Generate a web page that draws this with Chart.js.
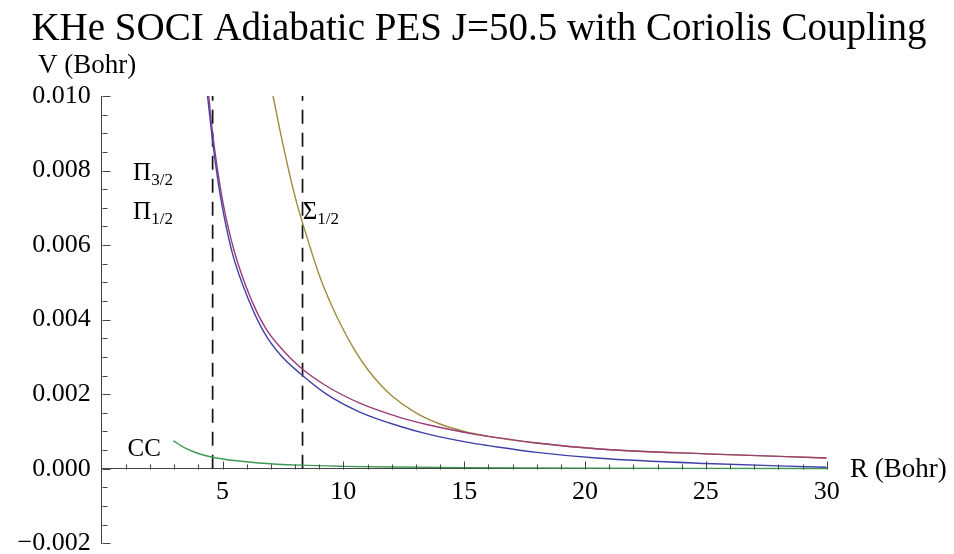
<!DOCTYPE html>
<html>
<head>
<meta charset="utf-8">
<script src="https://cdn.jsdelivr.net/npm/chart.js@4.4.1/dist/chart.umd.min.js"></script>
<style>
  html, body { margin: 0; padding: 0; background: #fff; }
  #wrap { width: 954px; height: 554px; }
</style>
</head>
<body>
<div id="wrap"><canvas id="pes" width="954" height="554"></canvas></div>
<script>
// 曲线数据 (R in Bohr, V)
const rPi32 = [4.43, 4.59, 4.8, 5.03, 5.48, 6.2, 6.8, 7.5, 8.2, 9.3, 10.68, 12.33, 13.5, 15.4, 16, 18, 20.6, 25, 30];
const vPi32 = [0.0100, 0.0090, 0.0080, 0.0071, 0.00585, 0.00452, 0.00375, 0.00318, 0.00273, 0.00222, 0.00176, 0.00138, 0.00118, 0.00093, 0.00087, 0.00069, 0.00053, 0.0004, 0.00029];

const rPi12 = [4.38, 4.55, 4.75, 4.97, 5.4, 6.1, 6.7, 7.4, 8.2, 9.3, 10.68, 12.33, 13.5, 15.4, 16, 18, 20.6, 25, 30];
const vPi12 = [0.0100, 0.0090, 0.0080, 0.0071, 0.0058, 0.0045, 0.00368, 0.00305, 0.00256, 0.00200, 0.00152, 0.00114, 0.00093, 0.00068, 0.00062, 0.00044, 0.00028, 0.00014, 0.00004];

const rSig12 = [7.09, 7.5, 8.0, 8.5, 9.0, 9.5, 10, 10.5, 11, 11.5, 12, 13, 14, 15, 16, 18, 20.6, 25, 30];
const vSig12 = [0.0100, 0.0087, 0.0073, 0.0062, 0.0052, 0.0044, 0.00373, 0.00315, 0.00267, 0.00228, 0.00196, 0.0015, 0.0012, 0.001, 0.00087, 0.00069, 0.00053, 0.0004, 0.00029];

const rCC = [2.96, 3.5, 4.0, 4.59, 5.5, 6.5, 8.2, 10, 12, 15, 20, 25, 30];
const vCC = [0.00075, 0.00054, 0.00041, 0.00031, 0.00022, 0.000155, 0.000096, 0.000065, 0.000046, 0.00003, 0.000016, 0.00001, 0.000007];

// 竖直虚线位置
const dashR = [4.59, 8.31];
const dashV = [0, 0.010];

// 坐标轴
const xMin = 0, xMax = 30, xMinorStep = 1, xMajorStep = 5;
const yMin = -0.002, yMax = 0.010, yMinorStep = 0.0005, yMajorStep = 0.002;
const xTickLabels = ['5', '10', '15', '20', '25', '30'];
const yTickLabels = ['\u22120.002', '0.000', '0.002', '0.004', '0.006', '0.008', '0.010'];

// 文字标注
const chartTitle = 'KHe SOCI Adiabatic PES J=50.5 with Coriolis Coupling';
const yAxisTitle = 'V (Bohr)';
const xAxisTitle = 'R (Bohr)';
const stateMain = ['\u03A0', '\u03A0', '\u03A3', 'CC'];
const stateSub = ['3/2', '1/2', '1/2', ''];
const stateR = [1.3, 1.3, 8.32, 1.07];
const stateV = [0.00775, 0.0067, 0.0067, 0.000335];

const SERIF = '"Liberation Serif", "DejaVu Serif", serif';

function pts(rs, vs) {
    return rs.map((r, i) => ({ x: r, y: vs[i] }));
}

function isMajor(v, step) {
    const q = v / step;
    return Math.abs(q - Math.round(q)) < 1e-6;
}

const curveStyle = {
    borderWidth: 1.4,
    pointRadius: 0,
    fill: false,
    cubicInterpolationMode: 'monotone'
};

const dashStyle = {
    borderColor: '#111',
    borderWidth: 1.7,
    borderDash: [14, 9],
    pointRadius: 0,
    fill: false
};

// 刻度与文字
const overlay = {
    id: 'overlay',
    afterDatasetsDraw(chart) {
        const ctx = chart.ctx;
        const xs = chart.scales.x, ys = chart.scales.y;
        const x0 = Math.round(xs.getPixelForValue(0)) + 0.5;
        const y0 = Math.round(ys.getPixelForValue(0)) + 0.5;
        ctx.save();
        ctx.strokeStyle = '#444';
        ctx.lineWidth = 1;
        ctx.beginPath();
        xs.ticks.forEach(t => {
            if (t.value === 0) return;
            const px = Math.round(xs.getPixelForValue(t.value)) + 0.5;
            const len = isMajor(t.value, xMajorStep) ? 8 : 5;
            ctx.moveTo(px, y0);
            ctx.lineTo(px, y0 - len);
        });
        ys.ticks.forEach(t => {
            const py = Math.round(ys.getPixelForValue(t.value)) + 0.5;
            const len = isMajor(t.value, yMajorStep) ? 8 : 5;
            ctx.moveTo(x0, py);
            ctx.lineTo(x0 + len, py);
        });
        ctx.stroke();
        ctx.restore();
    },
    afterDraw(chart) {
        const ctx = chart.ctx;
        const xs = chart.scales.x, ys = chart.scales.y;
        ctx.save();
        ctx.fillStyle = '#000';
        ctx.textBaseline = 'alphabetic';

        ctx.font = '39px ' + SERIF;
        ctx.textAlign = 'center';
        ctx.fillText(chartTitle, 479, 40);

        ctx.font = '27px ' + SERIF;
        ctx.textAlign = 'left';
        ctx.fillText(yAxisTitle, 38, 73);
        ctx.fillText(xAxisTitle, 850, ys.getPixelForValue(0) + 8);

        stateMain.forEach((m, i) => {
            const px = xs.getPixelForValue(stateR[i]);
            const py = ys.getPixelForValue(stateV[i]);
            ctx.font = '25px ' + SERIF;
            ctx.fillText(m, px, py);
            if (stateSub[i]) {
                const w = ctx.measureText(m).width;
                ctx.font = '17px ' + SERIF;
                ctx.fillText(stateSub[i], px + w, py + 5);
            }
        });
        ctx.restore();
    }
};

new Chart(document.getElementById('pes').getContext('2d'), {
    type: 'line',
    data: {
        datasets: [
            Object.assign({ label: 'Pi1/2', data: pts(rPi12, vPi12), borderColor: '#4040a8' }, curveStyle),
            Object.assign({ label: 'Pi3/2', data: pts(rPi32, vPi32), borderColor: '#9a3d78' }, curveStyle),
            Object.assign({ label: 'Sigma1/2', data: pts(rSig12, vSig12), borderColor: '#9e8c3c' }, curveStyle),
            Object.assign({ label: 'CC', data: pts(rCC, vCC), borderColor: '#3d9955' }, curveStyle),
            Object.assign({ label: 'dash1', data: pts([dashR[0], dashR[0]], dashV) }, dashStyle),
            Object.assign({ label: 'dash2', data: pts([dashR[1], dashR[1]], dashV) }, dashStyle)
        ]
    },
    options: {
        responsive: false,
        animation: false,
        devicePixelRatio: 1,
        layout: { padding: { left: 0, right: 127.3, top: 96, bottom: 10.7 } },
        plugins: {
            legend: { display: false },
            tooltip: { enabled: false },
            title: { display: false }
        },
        scales: {
            x: {
                type: 'linear',
                position: { y: 0 },
                min: xMin,
                max: xMax,
                grid: { display: false, drawTicks: false },
                border: { display: true, color: '#444', width: 1 },
                ticks: {
                    stepSize: xMinorStep,
                    autoSkip: false,
                    maxRotation: 0,
                    padding: 8,
                    color: '#000',
                    font: { family: SERIF, size: 26 },
                    callback: v => isMajor(v, xMajorStep) && v > 0 ? xTickLabels[Math.round(v / xMajorStep) - 1] : ''
                },
                afterFit(scale) { scale.paddingLeft = 0; scale.paddingRight = 0; }
            },
            y: {
                type: 'linear',
                position: 'left',
                min: yMin,
                max: yMax,
                grid: { display: false, drawTicks: false },
                border: { display: true, color: '#444', width: 1 },
                ticks: {
                    stepSize: yMinorStep,
                    autoSkip: false,
                    padding: 11,
                    color: '#000',
                    font: { family: SERIF, size: 26 },
                    callback: v => isMajor(v, yMajorStep) ? yTickLabels[Math.round((v - yMin) / yMajorStep)] : ''
                },
                afterFit(scale) {
                    scale.width = 101.7;
                    scale.paddingTop = 0;
                    scale.paddingBottom = 0;
                }
            }
        }
    },
    plugins: [overlay]
});
</script>
</body>
</html>
